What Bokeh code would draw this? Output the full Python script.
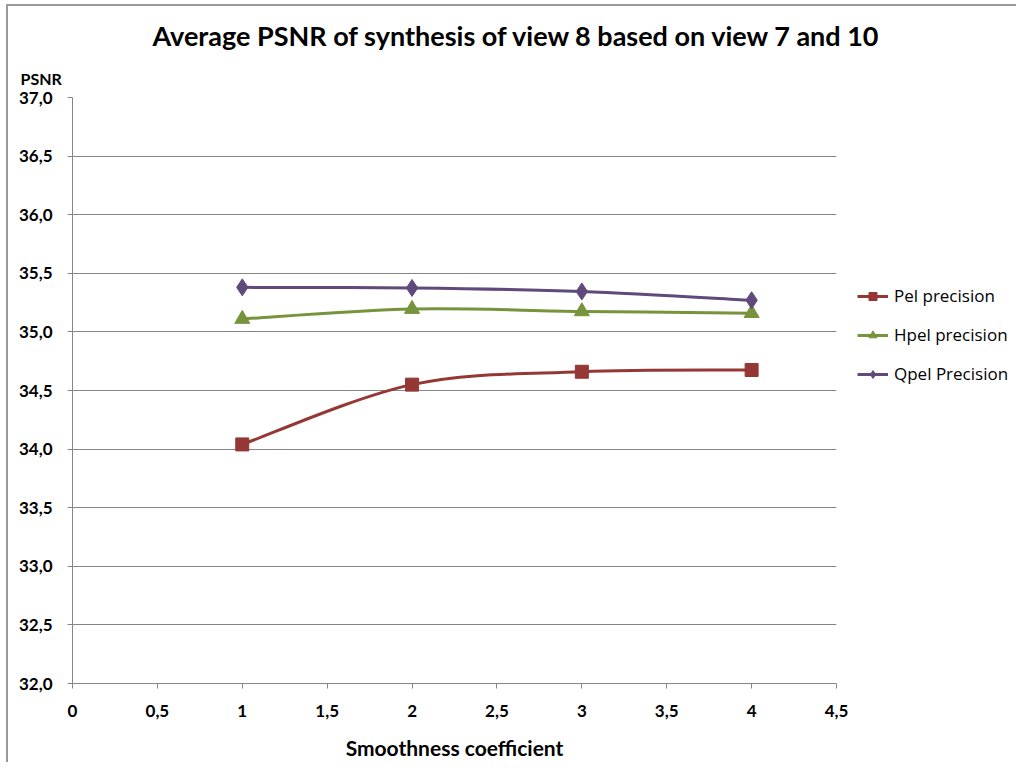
from bokeh.plotting import figure
from bokeh.models import (Legend, LegendItem, Title, CustomJSTickFormatter,
                          FixedTicker, Range1d)
from bokeh.embed import file_html
from bokeh.resources import INLINE

# ---- data ----
smoothness = [1, 2, 3, 4]
pel = [34.04, 34.55, 34.66, 34.675]
hpel = [35.11, 35.195, 35.175, 35.16]
qpel = [35.38, 35.375, 35.345, 35.27]
series_names = ["Pel precision", "Hpel precision", "Qpel Precision"]
x_ticks = [0, 0.5, 1, 1.5, 2, 2.5, 3, 3.5, 4, 4.5]
y_ticks = [32.0, 32.5, 33.0, 33.5, 34.0, 34.5, 35.0, 35.5, 36.0, 36.5, 37.0]

colors = ["#953735", "#77933C", "#604A7B"]
FONT = "Lato"

p = figure(width=1000, height=752, frame_width=764, frame_height=586,
           min_border_left=64, min_border_right=160, min_border_top=91,
           min_border_bottom=70,
           x_range=Range1d(0, 4.5), y_range=Range1d(32, 37),
           output_backend="svg", toolbar_location=None, title=None)
p.outline_line_color = None
p.background_fill_color = "white"
p.border_fill_color = "white"

# titles
t_psnr = Title(text="PSNR", align="left", offset=-52, text_font=FONT,
               text_font_size="16px", text_font_style="bold", text_color="black",
               standoff=20)
p.add_layout(t_psnr, "above")
t_main = Title(text="Average PSNR of synthesis of view 8 based on view 7 and 10",
               align="left", offset=80, text_font=FONT, text_font_size="27px",
               text_font_style="bold", text_color="black", standoff=10)
p.add_layout(t_main, "above")

# axes
gray = "#868686"
for ax in (p.xaxis[0], p.yaxis[0]):
    ax.axis_line_color = gray
    ax.major_tick_line_color = gray
    ax.minor_tick_line_color = None
    ax.major_tick_out = 5
    ax.major_tick_in = 0
    ax.major_label_text_font = FONT
    ax.major_label_text_font_size = "17px"
    ax.major_label_text_font_style = "bold"
    ax.major_label_text_color = "black"

p.xaxis.ticker = FixedTicker(ticks=x_ticks)
p.yaxis.ticker = FixedTicker(ticks=y_ticks)
p.xaxis.formatter = CustomJSTickFormatter(code="return String(tick).replace('.', ',');")
p.yaxis.formatter = CustomJSTickFormatter(code="return tick.toFixed(1).replace('.', ',');")
p.xaxis.major_label_standoff = 16
p.yaxis.major_label_standoff = 15
p.xaxis.axis_label = "Smoothness coefficient"
p.xaxis.axis_label_text_font = FONT
p.xaxis.axis_label_text_font_size = "21px"
p.xaxis.axis_label_text_font_style = "bold"
p.xaxis.axis_label_text_color = "black"
p.xaxis.axis_label_standoff = 15

p.xgrid.grid_line_color = None
p.ygrid.grid_line_color = gray
p.ygrid.grid_line_width = 1

# smooth curves (Catmull-Rom style bezier from data points)
def bezier_params(xs, ys):
    n = len(xs)
    x0, y0, x1, y1, cx0, cy0, cx1, cy1 = [], [], [], [], [], [], [], []
    for i in range(n - 1):
        im = max(i - 1, 0)
        ip2 = min(i + 2, n - 1)
        x0.append(xs[i]); y0.append(ys[i])
        x1.append(xs[i + 1]); y1.append(ys[i + 1])
        cx0.append(xs[i] + (xs[i + 1] - xs[im]) / 6)
        cy0.append(ys[i] + (ys[i + 1] - ys[im]) / 6)
        cx1.append(xs[i + 1] - (xs[ip2] - xs[i]) / 6)
        cy1.append(ys[i + 1] - (ys[ip2] - ys[i]) / 6)
    return dict(x0=x0, y0=y0, x1=x1, y1=y1, cx0=cx0, cy0=cy0, cx1=cx1, cy1=cy1)

items = []
markers = ["square", "triangle", "diamond"]
sizes = [13, 15, 17]
for name, ys, col, mk, sz in zip(series_names, [pel, hpel, qpel], colors, markers, sizes):
    bp = bezier_params(smoothness, ys)
    r_line = p.bezier(line_color=col, line_width=3, **bp)
    r_pt = p.scatter(smoothness, ys, marker=mk, size=sz, fill_color=col, line_color=col)
    items.append(LegendItem(label=name, renderers=[r_line, r_pt]))

legend = Legend(items=items, location=(21, 298))
legend.border_line_color = None
legend.background_fill_alpha = 0
legend.label_text_font = "Open Sans"
legend.label_text_font_size = "17px"
legend.label_text_color = "black"
legend.glyph_width = 31
legend.glyph_height = 20
legend.label_height = 20
legend.spacing = 16
legend.padding = 0
legend.margin = 0
legend.label_standoff = 6
p.add_layout(legend, "right")

p.styles = {"margin-left": "6px", "margin-top": "4px",
            "border-left": "2px solid #9a9a9a", "border-top": "2px solid #9a9a9a"}

open("out.html", "w").write(file_html(p, INLINE))
